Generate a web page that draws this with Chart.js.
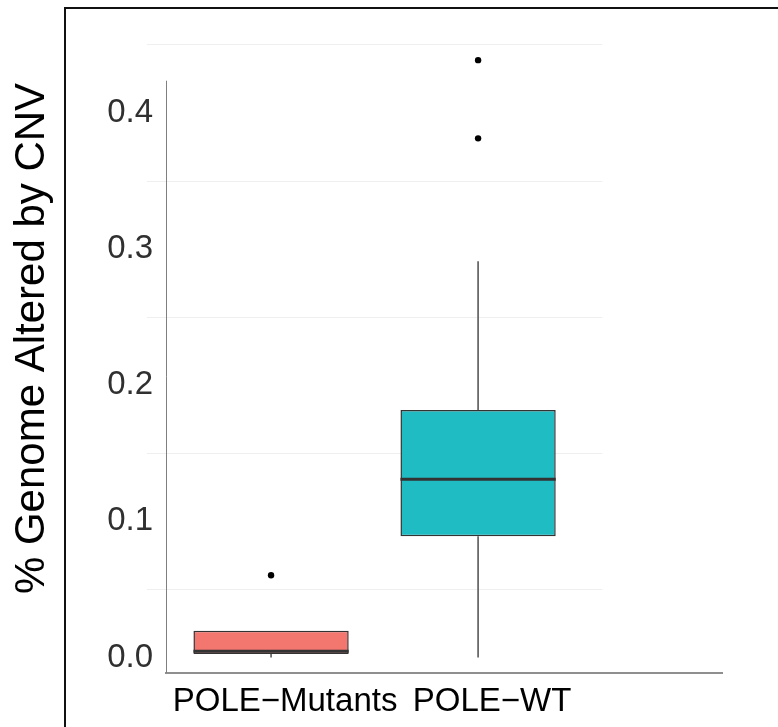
<!DOCTYPE html>
<html>
<head>
<meta charset="utf-8">
<script src="https://cdn.jsdelivr.net/npm/chart.js@4/dist/chart.umd.min.js"></script>
<style>
  html, body { margin: 0; padding: 0; background: #fff; overflow: hidden; }
  #frame {
    position: absolute; left: 64px; top: 7px; width: 900px; height: 900px;
    border-left: 2px solid #111; border-top: 2px solid #111;
  }
  #chart { position: absolute; left: 0; top: 0; }
</style>
</head>
<body>
<div id="frame"></div>
<canvas id="chart" width="778" height="727"></canvas>
<script>
// box plot summary per group
const categories = ['POLE\u2212Mutants', 'POLE\u2212WT'];
const catPos = [1, 2];
const boxColors = ['#F3766F', '#1FBCC4'];
const q1 = [0.0026, 0.0890];
const medians = [0.0046, 0.1309];
const q3 = [0.0197, 0.1817];
const whiskerLow = [0.0, 0.0];
const whiskerHigh = [0.0197, 0.2909];
const outlierCat = [1, 2, 2];
const outlierVal = [0.0604, 0.3811, 0.4385];
const yTicks = [0, 0.1, 0.2, 0.3, 0.4];
const minorGrid = [0.05, 0.15, 0.25, 0.35, 0.45];
const panelRange = [0.4, 2.6];
const yLineTop = 0.4234; // where the drawn y axis line stops

const FONT = "'Liberation Sans', Arial, Helvetica, sans-serif";
const HALF = 0.375; // half box width in category units

const boxData = catPos.map((p, i) => ({ x: p, y: [q1[i], q3[i]] }));

const whiskerData = [];
catPos.forEach((p, i) => {
  whiskerData.push(
    { x: p, y: whiskerLow[i] }, { x: p, y: q1[i] }, { x: p, y: null },
    { x: p, y: q3[i] }, { x: p, y: whiskerHigh[i] }, { x: p, y: null }
  );
});

const medianData = [];
catPos.forEach((p, i) => {
  medianData.push({ x: p - HALF, y: medians[i] }, { x: p + HALF, y: medians[i] }, { x: p + HALF, y: null });
});

const outlierData = outlierCat.map((c, i) => ({ x: c, y: outlierVal[i] }));

// faint gridlines over the panel range, plus the short y axis line
const panelPlugin = {
  id: 'panel',
  beforeDatasetsDraw(chart) {
    const { ctx, chartArea, scales: { x, y } } = chart;
    const x0 = x.getPixelForValue(panelRange[0]);
    const x1 = x.getPixelForValue(panelRange[1]);
    ctx.save();
    ctx.strokeStyle = '#efefef';
    ctx.lineWidth = 1;
    minorGrid.forEach(v => {
      const py = Math.round(y.getPixelForValue(v)) + 0.5;
      ctx.beginPath();
      ctx.moveTo(x0, py);
      ctx.lineTo(x1, py);
      ctx.stroke();
    });
    ctx.strokeStyle = '#808080';
    ctx.lineWidth = 1;
    const ax = Math.round(chartArea.left) + 0.5;
    ctx.beginPath();
    ctx.moveTo(ax, y.getPixelForValue(yLineTop));
    ctx.lineTo(ax, chartArea.bottom);
    ctx.stroke();
    ctx.restore();
  }
};

new Chart(document.getElementById('chart'), {
  type: 'bar',
  data: {
    datasets: [
      {
        type: 'line',
        label: 'median',
        data: medianData,
        borderColor: '#333333',
        borderWidth: 3,
        pointRadius: 0,
        spanGaps: false,
        order: 0
      },
      {
        type: 'scatter',
        label: 'outliers',
        data: outlierData,
        backgroundColor: '#000',
        borderWidth: 0,
        pointRadius: 3.2,
        order: 1
      },
      {
        type: 'bar',
        label: 'box',
        data: boxData,
        backgroundColor: boxColors,
        borderColor: '#333333',
        borderWidth: 1.5,
        borderSkipped: false,
        categoryPercentage: 1,
        barPercentage: 0.75,
        order: 2
      },
      {
        type: 'line',
        label: 'whiskers',
        data: whiskerData,
        borderColor: '#595959',
        borderWidth: 1.6,
        pointRadius: 0,
        spanGaps: false,
        order: 3
      }
    ]
  },
  options: {
    responsive: false,
    animation: false,
    events: [],
    layout: { padding: { top: 2, left: 0, right: 55.5, bottom: 0 } },
    scales: {
      x: {
        type: 'linear',
        position: 'bottom',
        offset: false,
        min: 0.4925,
        max: 3.1806,
        afterBuildTicks: s => { s.ticks = catPos.map(v => ({ value: v })); },
        afterFit: s => { s.height = 54; s.paddingLeft = 0; s.paddingRight = 0; },
        ticks: {
          autoSkip: false,
          maxRotation: 0,
          padding: 9,
          labelOffset: 14,
          color: '#000',
          font: { family: FONT, size: 33 },
          callback: (v, i) => categories[i]
        },
        grid: { display: false, drawTicks: false },
        border: { color: '#8f8f8f', width: 2 }
      },
      y: {
        type: 'linear',
        min: -0.0113,
        max: 0.4797,
        afterBuildTicks: s => { s.ticks = yTicks.map(v => ({ value: v })); },
        afterFit: s => { s.width = 166; s.paddingTop = 0; s.paddingBottom = 0; },
        ticks: {
          autoSkip: false,
          padding: 13,
          color: '#303030',
          font: { family: FONT, size: 33 },
          callback: v => v.toFixed(1)
        },
        grid: { display: false, drawTicks: false },
        border: { display: false },
        title: {
          display: true,
          text: '% Genome Altered by CNV',
          color: '#000',
          font: { family: FONT, size: 42, weight: 'normal', lineHeight: 1.2 },
          padding: { top: 7, bottom: 0 }
        }
      }
    },
    plugins: {
      legend: { display: false },
      tooltip: { enabled: false }
    }
  },
  plugins: [panelPlugin]
});
</script>
</body>
</html>
